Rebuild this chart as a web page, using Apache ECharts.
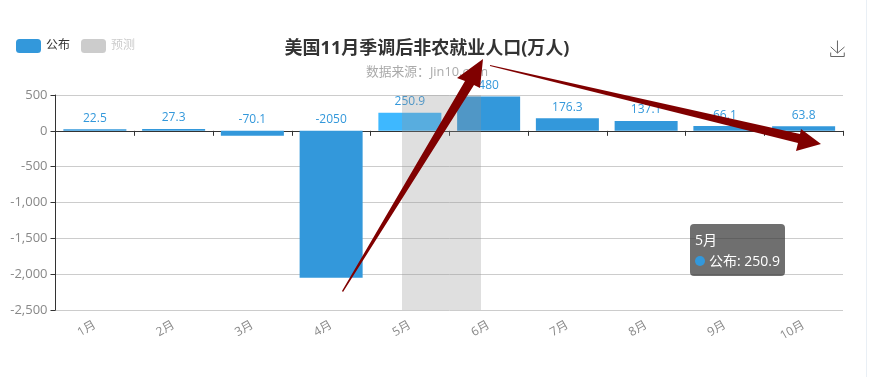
<!DOCTYPE html>
<html>
<head>
<meta charset="utf-8">
<title>美国11月季调后非农就业人口</title>
<script src="https://cdn.jsdelivr.net/npm/echarts@6/dist/echarts.min.js"></script>
<style>
  html, body { margin: 0; padding: 0; background: #fff; }
  #main { position: absolute; left: 0; top: 0; width: 866px; height: 377px; border-right: 1px solid #e9eff5; }
</style>
</head>
<body>
<div id="main"></div>
<script>
const months = ['1月', '2月', '3月', '4月', '5月', '6月', '7月', '8月', '9月', '10月'];
const published = [22.5, 27.3, -70.1, -2050, 250.9, 480, 176.3, 137.1, 66.1, 63.8];
const forecast = [];
const yTicksMin = -2500, yTicksMax = 500, yTicksStep = 500;
const FONT = '"Open Sans", "Noto Sans CJK SC", sans-serif';

// hovered month in the screenshot
const hoverIndex = 4;

// annotation arrows drawn over the screenshot
const arrowA = [[342, 291], [465, 81], [457, 78], [483, 59], [480, 88], [474, 85], [343, 292]];
const arrowB = [[490, 65], [800, 134], [801, 129], [821, 144], [796, 151], [798, 143], [490, 66]];

const chart = echarts.init(document.getElementById('main'));

chart.setOption({
  animation: false,
  textStyle: { fontFamily: FONT },
  title: {
    text: '美国11月季调后非农就业人口(万人)',
    subtext: '数据来源：Jin10.com',
    left: 422,
    textAlign: 'center',
    top: 35,
    itemGap: 8,
    textStyle: { fontSize: 18, fontWeight: 'bold', color: '#333', fontFamily: FONT },
    subtextStyle: { fontSize: 12.8, color: '#aaa', fontFamily: FONT }
  },
  legend: {
    left: 11,
    top: 34,
    itemWidth: 25,
    itemHeight: 14,
    itemGap: 11,
    inactiveColor: '#ccc',
    inactiveBorderColor: '#ccc',
    textStyle: { fontSize: 12, color: '#333', fontFamily: FONT },
    data: ['公布', '预测'],
    selected: { '公布': true, '预测': false }
  },
  toolbox: {
    right: 4,
    top: 23,
    itemSize: 16,
    feature: { saveAsImage: { show: true, title: '' } },
    iconStyle: { borderColor: '#666' }
  },
  tooltip: {
    trigger: 'axis',
    axisPointer: { type: 'none' },
    position: [690, 224],
    backgroundColor: 'rgba(50,50,50,0.7)',
    borderWidth: 0,
    borderRadius: 4,
    padding: 5,
    shadowBlur: 0,
    extraCssText: 'box-shadow:none;line-height:21px;',
    textStyle: { color: '#fff', fontSize: 14, fontFamily: FONT },
    formatter: function (params) {
      const p = params[0];
      const dot = '<span style="display:inline-block;width:10px;height:10px;border-radius:5px;margin-right:4px;background:#3398DB"></span>';
      return p.name + '<br/>' + dot + p.seriesName + ': ' + p.value;
    }
  },
  grid: { left: 55.5, right: 23, top: 95, bottom: 67, outerBoundsMode: 'none' },
  xAxis: {
    type: 'category',
    data: months,
    axisLine: { onZero: true, lineStyle: { color: '#333' } },
    axisTick: { show: true, lineStyle: { color: '#333' } },
    axisLabel: { rotate: 30, margin: 14, color: '#888', fontSize: 12, interval: 0 }
  },
  yAxis: {
    type: 'value',
    min: yTicksMin,
    max: yTicksMax,
    interval: yTicksStep,
    axisLine: { show: true, lineStyle: { color: '#333' } },
    axisTick: { show: true, lineStyle: { color: '#333' } },
    axisLabel: { color: '#888', fontSize: 13 },
    splitLine: { lineStyle: { color: '#ccc' } }
  },
  series: [
    {
      name: '公布',
      type: 'bar',
      barWidth: '80%',
      itemStyle: { color: '#3398DB' },
      label: { show: true, position: 'top', color: '#3398DB', fontSize: 12 },
      data: published.map(function (v, i) {
        return i === hoverIndex ? { value: v, itemStyle: { color: '#39a8f0' } } : v;
      })
    },
    {
      name: '预测',
      type: 'bar',
      itemStyle: { color: '#999' },
      data: forecast
    }
  ],
  graphic: [
    {
      type: 'rect',
      z: 50,
      silent: true,
      shape: { x: 402, y: 95, width: 79, height: 215 },
      style: { fill: 'rgba(150,150,150,0.3)' }
    },
    { type: 'polygon', z: 60, silent: true, shape: { points: arrowA }, style: { fill: '#800000' } },
    { type: 'polygon', z: 60, silent: true, shape: { points: arrowB }, style: { fill: '#800000' } }
  ]
});

chart.dispatchAction({ type: 'showTip', seriesIndex: 0, dataIndex: hoverIndex });
</script>
</body>
</html>
